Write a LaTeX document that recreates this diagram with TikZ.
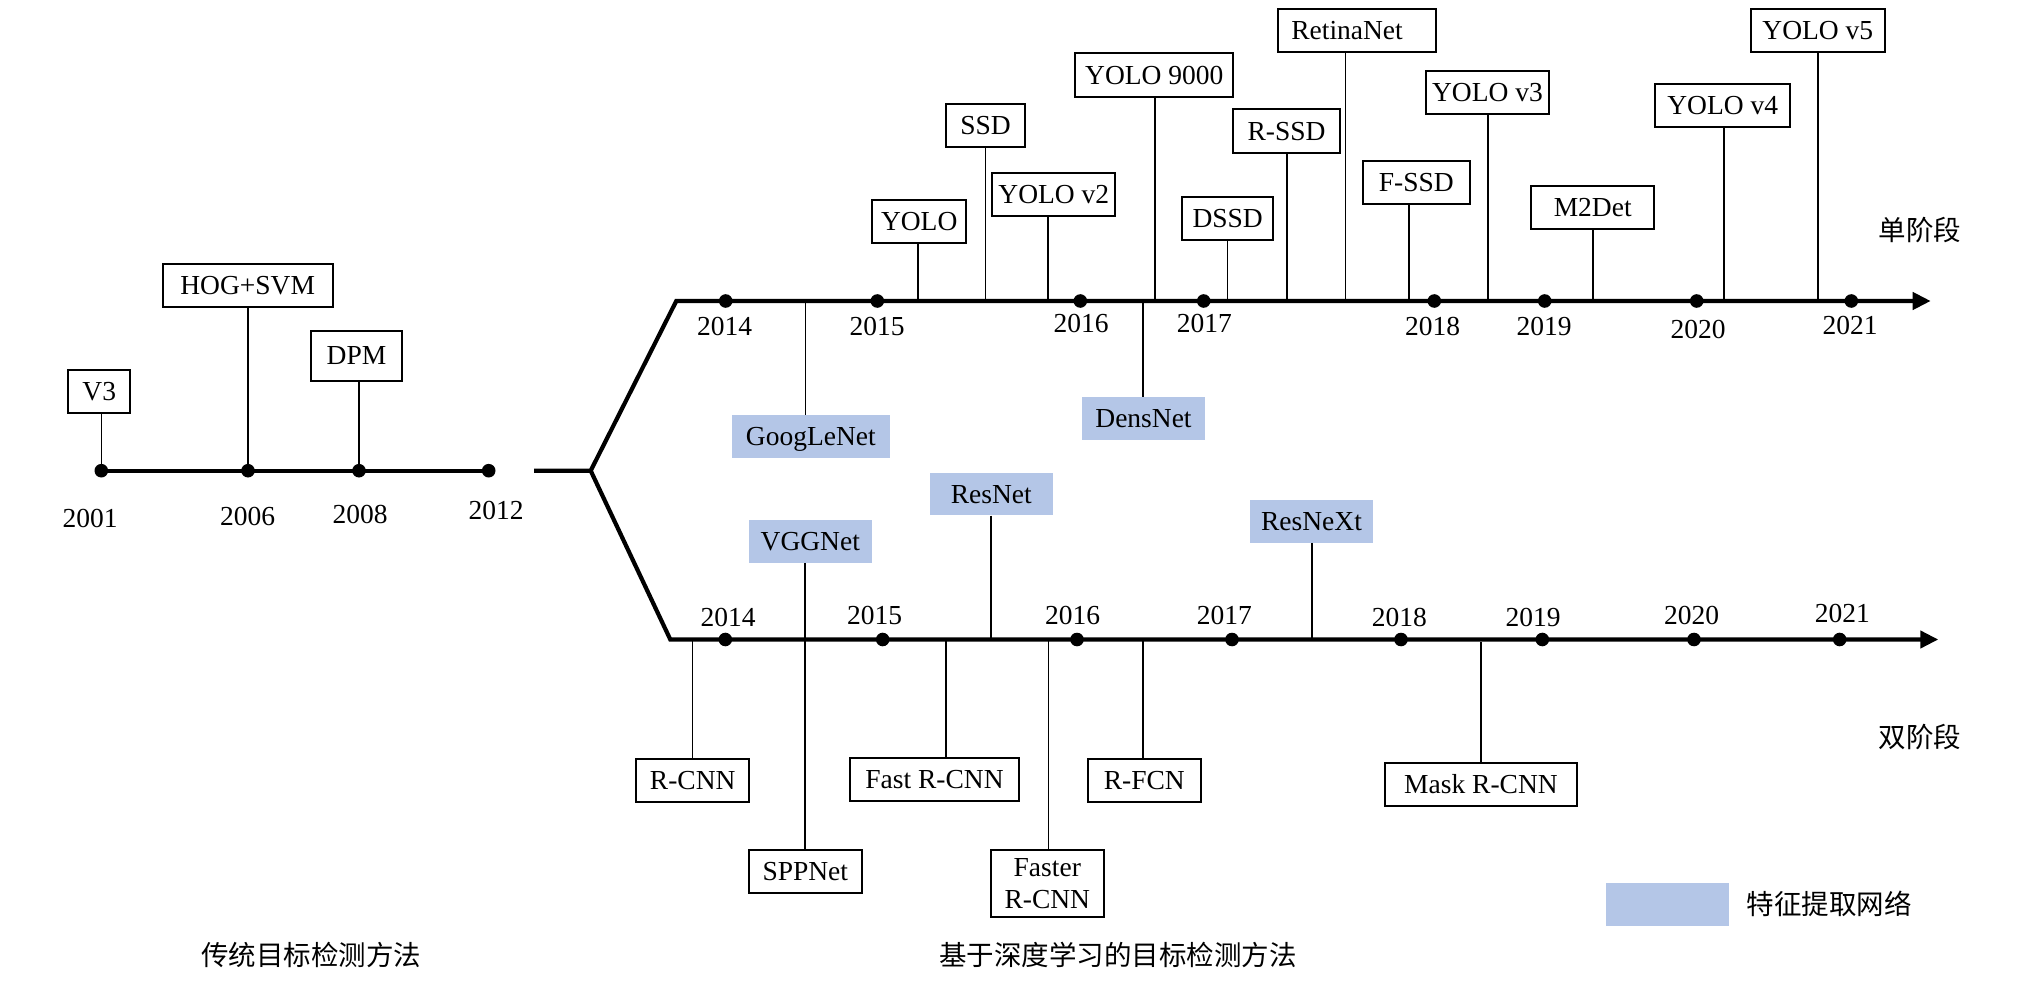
\documentclass[tikz,border=0pt]{standalone}
\usepackage{fontspec}
\setmainfont{Liberation Serif}
\newfontfamily\cjk{Noto Sans CJK SC}
\usetikzlibrary{arrows.meta}
\definecolor{featblue}{RGB}{180,198,231}
\begin{document}
\begin{tikzpicture}[x=1pt,y=-1pt,
  every node/.style={font=\fontsize{27.5}{32.6}\selectfont, inner sep=0pt},
  box/.style={draw, line width=1.8pt, text height=18.2pt, text depth=0pt},
  featbox/.style={fill=featblue, text height=18.2pt, text depth=0pt},
  cjklbl/.style={font=\fontsize{27.5}{32.6}\selectfont\cjk, text height=21pt, text depth=0pt},
  tl/.style={line width=4.2pt},
  tip/.style={-{Triangle[length=18pt,width=17pt]}},
  stem/.style={line width=1.6pt},
  dot/.style={circle, fill=black, minimum size=13.6pt, inner sep=0pt}
]
\useasboundingbox (0,0) rectangle (2030,984);

% ---------------- traditional timeline ----------------
\node[dot] (d2001) at (101.3,470.7) {};
\node[dot] (d2006) at (248,470.7) {};
\node[dot] (d2008) at (359,470.7) {};
\node[dot] (d2012) at (488.7,470.7) {};
\draw[tl] (d2001.center) -- (d2012.center);
\node (t2001) at (90,518.7) {2001};
\node (t2006) at (247.7,516) {2006};
\node (t2008) at (360,514.7) {2008};
\node (t2012) at (496,510.3) {2012};

\node[box, minimum width=61.7pt, minimum height=43.3pt] (v3) at (99.2,391.7) {V3};
\node[box, minimum width=170pt, minimum height=43pt] (hog) at (247.7,285.8) {HOG+SVM};
\node[box, minimum width=91pt, minimum height=50pt] (dpm) at (356.5,355.7) {DPM};
\draw[stem] (v3.south -| d2001) -- (d2001.center);
\draw[stem] (hog.south -| d2006) -- (d2006.center);
\draw[stem] (dpm.south -| d2008) -- (d2008.center);

% ---------------- branches ----------------
\coordinate (gapL) at (534,470.7);
\coordinate (split) at (590.7,470.7);
\coordinate (ustart) at (676.3,301);
\coordinate (uend) at (1930.7,301);
\coordinate (lstart) at (670.3,639.5);
\coordinate (lend) at (1938.3,639.5);
\draw[tl, tip] (gapL) -- (split) -- (ustart) -- (uend);
\draw[tl, tip] (split) -- (lstart) -- (lend);

% ---------------- upper (single stage) ----------------
\node[dot] (u2014) at (725.7,301) {};
\node[dot] (u2015) at (877.3,301) {};
\node[dot] (u2016) at (1080.3,301) {};
\node[dot] (u2017) at (1203.7,301) {};
\node[dot] (u2018) at (1434.3,301) {};
\node[dot] (u2019) at (1544.7,301) {};
\node[dot] (u2020) at (1696.7,301) {};
\node[dot] (u2021) at (1851.3,301) {};
\node (uy2014) at (724.7,326.7) {2014};
\node (uy2015) at (877,326.7) {2015};
\node (uy2016) at (1081,323.3) {2016};
\node (uy2017) at (1204.3,323.3) {2017};
\node (uy2018) at (1432.7,326.7) {2018};
\node (uy2019) at (1544,326.7) {2019};
\node (uy2020) at (1698,329.3) {2020};
\node (uy2021) at (1850,325) {2021};

\node[box, minimum width=94.3pt, minimum height=43.3pt] (yolo) at (919.2,221.7) {YOLO};
\node[box, minimum width=78.4pt, minimum height=42.7pt] (ssd) at (985.5,125.7) {SSD};
\node[box, minimum width=123pt, minimum height=42.7pt] (yolov2) at (1053.8,194.7) {YOLO v2};
\node[box, minimum width=158pt, minimum height=43.4pt] (yolo9000) at (1154.3,75) {YOLO 9000};
\node[box, minimum width=91.3pt, minimum height=43.3pt] (dssd) at (1227.7,218.3) {DSSD};
\node[box, minimum width=107.6pt, minimum height=44pt] (rssd) at (1286.5,131.3) {R-SSD};
\node[box, minimum height=43.3pt, text width=132pt, align=left, inner xsep=13pt] (retina) at (1357.3,30.7) {RetinaNet};
\node[box, minimum width=107.3pt, minimum height=43.3pt] (fssd) at (1416.3,182.3) {F-SSD};
\node[box, minimum width=123pt, minimum height=42.7pt] (yolov3) at (1487.5,92.3) {YOLO v3};
\node[box, minimum width=122.7pt, minimum height=43.3pt] (m2det) at (1592.7,207.3) {M2Det};
\node[box, minimum width=134.7pt, minimum height=43pt] (yolov4) at (1722.7,105.8) {YOLO v4};
\node[box, minimum width=133.7pt, minimum height=42.7pt] (yolov5) at (1817.8,30.3) {YOLO v5};
\node[featbox, minimum width=157.7pt, minimum height=42.7pt] (googlenet) at (810.8,436.3) {GoogLeNet};
\node[featbox, minimum width=123pt, minimum height=42.7pt] (densnet) at (1143.5,418.7) {DensNet};

\coordinate (s-yolo) at (918,301);
\coordinate (s-ssd) at (985.3,301);
\coordinate (s-yolov2) at (1047.7,301);
\coordinate (s-yolo9000) at (1155,301);
\coordinate (s-dssd) at (1227.3,301);
\coordinate (s-rssd) at (1287,301);
\coordinate (s-retina) at (1345.3,301);
\coordinate (s-fssd) at (1409,301);
\coordinate (s-yolov3) at (1488,301);
\coordinate (s-m2det) at (1593,301);
\coordinate (s-yolov4) at (1724,301);
\coordinate (s-yolov5) at (1818,301);
\coordinate (s-googlenet) at (805.3,301);
\coordinate (s-densnet) at (1142.7,301);
\foreach \n in {yolo,ssd,yolov2,yolo9000,dssd,rssd,retina,fssd,yolov3,m2det,yolov4,yolov5}
  \draw[stem] (s-\n |- \n.south) -- (s-\n);
\foreach \n in {googlenet,densnet}
  \draw[stem] (s-\n) -- (s-\n |- \n.north);

\node[cjklbl] (single) at (1920,230) {单阶段};

% ---------------- lower (two stage) ----------------
\node[dot] (l2014) at (725.3,639.5) {};
\node[dot] (l2015) at (882.7,639.5) {};
\node[dot] (l2016) at (1077,639.5) {};
\node[dot] (l2017) at (1232,639.5) {};
\node[dot] (l2018) at (1401,639.5) {};
\node[dot] (l2019) at (1542.3,639.5) {};
\node[dot] (l2020) at (1694,639.5) {};
\node[dot] (l2021) at (1839.7,639.5) {};
\node (ly2014) at (728,617) {2014};
\node (ly2015) at (874.7,615.3) {2015};
\node (ly2016) at (1072.7,615.3) {2016};
\node (ly2017) at (1224.3,615.3) {2017};
\node (ly2018) at (1399.3,617) {2018};
\node (ly2019) at (1533,617) {2019};
\node (ly2020) at (1691.7,615.3) {2020};
\node (ly2021) at (1842.3,613.7) {2021};

\node[box, minimum width=113.3pt, minimum height=43.3pt] (rcnn) at (692.7,780.3) {R-CNN};
\node[featbox, minimum width=122.7pt, minimum height=42.4pt] (vggnet) at (810.3,541.5) {VGGNet};
\node[box, minimum width=113.3pt, minimum height=42.7pt] (sppnet) at (805.3,871.7) {SPPNet};
\node[box, minimum width=169.6pt, minimum height=43.3pt] (fastrcnn) at (934.5,779.3) {Fast R-CNN};
\node[featbox, minimum width=122.7pt, minimum height=42pt] (resnet) at (991.3,494.3) {ResNet};
\node[draw, line width=1.8pt, minimum width=112.7pt, minimum height=66.7pt, align=center] (faster) at (1047.3,883.7) {Faster\\R-CNN};
\node[box, minimum width=113.3pt, minimum height=43.3pt] (rfcn) at (1144.3,780.3) {R-FCN};
\node[featbox, minimum width=123pt, minimum height=42.4pt] (resnext) at (1311.5,521.5) {ResNeXt};
\node[box, minimum width=192.6pt, minimum height=43.3pt] (mask) at (1481,784.7) {Mask R-CNN};

\coordinate (s-rcnn) at (692.3,639.5);
\coordinate (s-fastrcnn) at (946,639.5);
\coordinate (s-faster) at (1048.3,639.5);
\coordinate (s-rfcn) at (1143,639.5);
\coordinate (s-mask) at (1481,642);
\coordinate (s-resnet) at (991,639.5);
\coordinate (s-resnext) at (1312,639.5);
\foreach \n in {rcnn,fastrcnn,faster,rfcn,mask}
  \draw[stem] (s-\n) -- (s-\n |- \n.north);
\foreach \n in {resnet,resnext}
  \draw[stem] (s-\n |- \n.south) -- (s-\n);
\coordinate (s-vgg) at (804.7,639.5);
\draw[stem] (s-vgg |- vggnet.south) -- (s-vgg |- sppnet.north);

\node[cjklbl] (double) at (1920,737) {双阶段};

% ---------------- legend and titles ----------------
\node[fill=featblue, minimum width=122.7pt, minimum height=42.7pt] (legbox) at (1667.3,904.3) {};
\node[cjklbl] (legtext) at (1829.3,904.3) {特征提取网络};
\node[cjklbl] (title1) at (311,955.3) {传统目标检测方法};
\node[cjklbl] (title2) at (1117.8,955.3) {基于深度学习的目标检测方法};
\end{tikzpicture}
\end{document}
